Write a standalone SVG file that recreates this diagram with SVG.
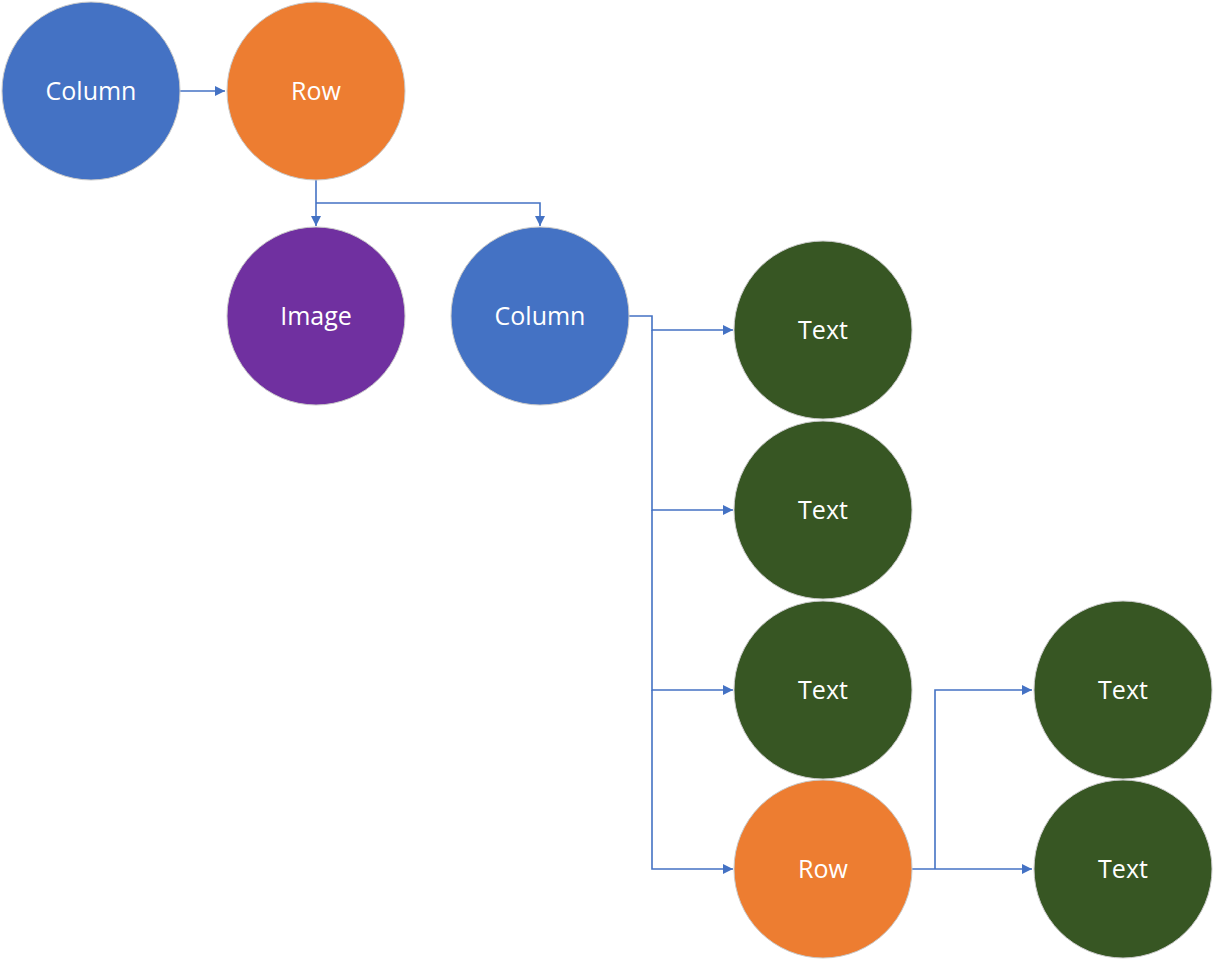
<svg xmlns="http://www.w3.org/2000/svg" width="1214" height="960" viewBox="0 0 1214 960">
<style>
.n{stroke:#c9c9c9;stroke-width:1}
.blue{fill:#4472C4}.orange{fill:#ED7D31}.purple{fill:#7030A0}.green{fill:#375623}
.t{fill:#fff;font-family:"Open Sans","Noto Sans",sans-serif;font-size:25px;text-anchor:middle;dominant-baseline:central}
.c{fill:none;stroke:#4472C4;stroke-width:1.6}
</style>
<defs>
<marker id="a" viewBox="0 0 10 10" refX="10" refY="5" markerWidth="10" markerHeight="10" markerUnits="userSpaceOnUse" orient="auto">
<path d="M0,0L10,5L0,10z" fill="#4472C4"/>
</marker>
</defs>
<rect width="1214" height="960" fill="#fff"/>
<g id="connectors">
<path class="c" d="M180,91H225" marker-end="url(#a)"/>
<path class="c" d="M316,180V226" marker-end="url(#a)"/>
<path class="c" d="M316,203H540V226" marker-end="url(#a)"/>
<path class="c" d="M629,316H652V330H733" marker-end="url(#a)"/>
<path class="c" d="M652,330V510H733" marker-end="url(#a)"/>
<path class="c" d="M652,510V690H733" marker-end="url(#a)"/>
<path class="c" d="M652,690V869H733" marker-end="url(#a)"/>
<path class="c" d="M912,869H1032" marker-end="url(#a)"/>
<path class="c" d="M935,869V690H1032" marker-end="url(#a)"/>
</g>
<g id="column1"><circle class="n blue" cx="91" cy="91" r="89"/><text class="t" x="91" y="90">Column</text></g>
<g id="row1"><circle class="n orange" cx="316" cy="91" r="89"/><text class="t" x="316" y="90">Row</text></g>
<g id="image"><circle class="n purple" cx="316" cy="316" r="89"/><text class="t" x="316" y="315">Image</text></g>
<g id="column2"><circle class="n blue" cx="540" cy="316" r="89"/><text class="t" x="540" y="315">Column</text></g>
<g id="text1"><circle class="n green" cx="823" cy="330" r="89"/><text class="t" x="823" y="329">Text</text></g>
<g id="text2"><circle class="n green" cx="823" cy="510" r="89"/><text class="t" x="823" y="509">Text</text></g>
<g id="text3"><circle class="n green" cx="823" cy="690" r="89"/><text class="t" x="823" y="689">Text</text></g>
<g id="row2"><circle class="n orange" cx="823" cy="869" r="89"/><text class="t" x="823" y="868">Row</text></g>
<g id="text4"><circle class="n green" cx="1123" cy="690" r="89"/><text class="t" x="1123" y="689">Text</text></g>
<g id="text5"><circle class="n green" cx="1123" cy="869" r="89"/><text class="t" x="1123" y="868">Text</text></g>
</svg>
